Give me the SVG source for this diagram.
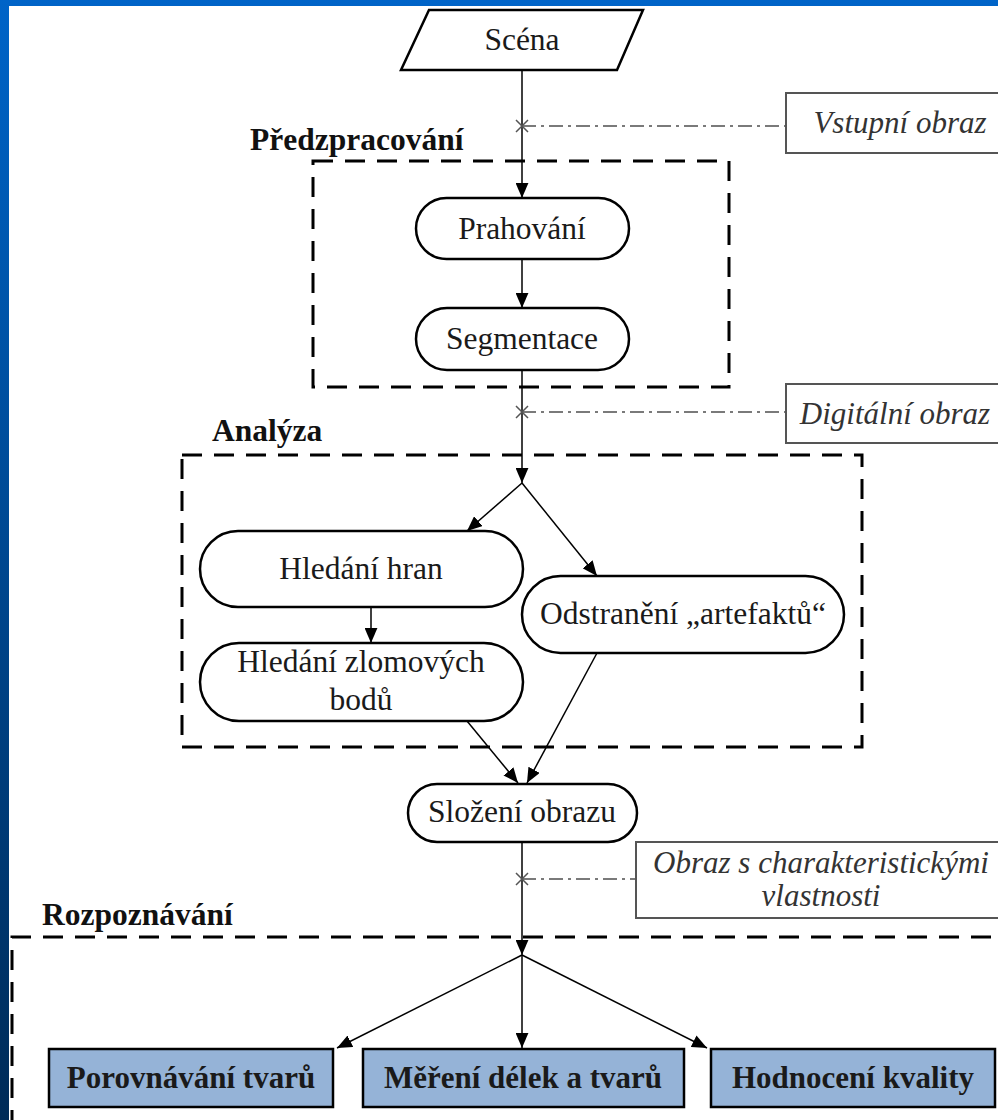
<svg xmlns="http://www.w3.org/2000/svg" width="998" height="1120" viewBox="0 0 998 1120">
<defs>
<linearGradient id="bg" x1="0" y1="0" x2="0" y2="1">
<stop offset="0" stop-color="#0064C8"/>
<stop offset="1" stop-color="#002B58"/>
</linearGradient>
<marker id="ah" viewBox="0 0 14 12" refX="14" refY="6" markerWidth="15" markerHeight="13" markerUnits="userSpaceOnUse" orient="auto">
<path d="M0,0 L14,6 L0,12 z" fill="#000"/>
</marker>
<style>
text{font-family:'Liberation Serif','Tinos','DejaVu Serif',serif}
.t{font-size:31.5px;fill:#1a1a1a;text-anchor:middle}
.b{font-weight:bold;font-size:31px}
.i{font-style:italic;fill:#333;font-size:31px}
.lbl{font-size:31.5px;font-weight:bold;fill:#111}
.node{fill:#fff;stroke:#000;stroke-width:2.5}
.res{fill:#95B3D7;stroke:#000;stroke-width:2.5}
.ann{fill:#fff;stroke:#555;stroke-width:2}
.grp{fill:none;stroke:#000;stroke-width:3;stroke-dasharray:20 12}
.c{fill:none;stroke:#000;stroke-width:1.5;marker-end:url(#ah)}
.dd{fill:none;stroke:#7a7a7a;stroke-width:2;stroke-dasharray:14 5 3 5}
.x{fill:none;stroke:#555;stroke-width:1.5}
</style>
</defs>
<rect x="0" y="0" width="998" height="1120" fill="url(#bg)"/>
<rect x="9" y="6" width="989" height="1114" fill="#fff"/>

<g id="groups">
<rect id="grp-predzpracovani" class="grp" x="313" y="161" width="416" height="226"/>
<rect id="grp-analyza" class="grp" x="182" y="455" width="680" height="292"/>
<path id="grp-rozpoznavani" class="grp" d="M12,1130 V937 H1010"/>
<text class="lbl" x="250" y="150">Předzpracování</text>
<text class="lbl" x="212" y="441">Analýza</text>
<text class="lbl" x="42" y="925">Rozpoznávání</text>
</g>

<g id="connectors">
<path class="c" d="M522,70 V198"/>
<path class="c" d="M522,259 V308"/>
<path class="c" d="M522,370 V483"/>
<path class="c" d="M522,483 L467,531"/>
<path class="c" d="M522,483 L597,576"/>
<path class="c" d="M371,607 V643"/>
<path class="c" d="M467,721 L518,783"/>
<path class="c" d="M597,653 L527,783"/>
<path class="c" d="M522,842 V955"/>
<path class="c" d="M522,955 L337,1048"/>
<path class="c" d="M522,955 V1048"/>
<path class="c" d="M522,955 L707,1048"/>
<path class="dd" d="M522,126 H786"/>
<path class="dd" d="M522,412 H786"/>
<path class="dd" d="M522,879 H636"/>
<path class="x" d="M516,120 L528,132 M528,120 L516,132"/>
<path class="x" d="M516,406 L528,418 M528,406 L516,418"/>
<path class="x" d="M516,873 L528,885 M528,873 L516,885"/>
</g>

<g id="scena">
<polygon class="node" points="429,10 643,10 617,70 401,70"/>
<text class="t" x="522" y="50">Scéna</text>
</g>
<g id="vstupni-obraz">
<rect class="ann" x="786" y="93" width="226" height="60"/>
<text class="t i" x="900" y="133">Vstupní obraz</text>
</g>
<g id="prahovani">
<rect class="node" x="416" y="198" width="213" height="61" rx="30.5"/>
<text class="t" x="522" y="239">Prahování</text>
</g>
<g id="segmentace">
<rect class="node" x="416" y="308" width="213" height="62" rx="31"/>
<text class="t" x="522" y="349">Segmentace</text>
</g>
<g id="digitalni-obraz">
<rect class="ann" x="786" y="384" width="226" height="59"/>
<text class="t i" x="895" y="424">Digitální obraz</text>
</g>
<g id="hledani-hran">
<rect class="node" x="200" y="531" width="323" height="76" rx="38"/>
<text class="t" x="361" y="579">Hledání hran</text>
</g>
<g id="hledani-zlomovych-bodu">
<rect class="node" x="200" y="643" width="323" height="78" rx="39"/>
<text class="t" x="361" y="672">Hledání zlomových</text>
<text class="t" x="361" y="710">bodů</text>
</g>
<g id="odstraneni-artefaktu">
<rect class="node" x="522" y="576" width="322" height="77" rx="38.5"/>
<text class="t" x="683" y="624">Odstranění „artefaktů“</text>
</g>
<g id="slozeni-obrazu">
<rect class="node" x="408" y="784" width="229" height="58" rx="29"/>
<text class="t" x="522" y="822">Složení obrazu</text>
</g>
<g id="obraz-s-charakteristickymi">
<rect class="ann" x="636" y="842" width="376" height="76"/>
<text class="t i" x="821" y="873">Obraz s charakteristickými</text>
<text class="t i" x="821" y="906">vlastnosti</text>
</g>
<g id="porovnavani-tvaru">
<rect class="res" x="49" y="1049" width="284" height="58"/>
<text class="t b" x="191" y="1088">Porovnávání tvarů</text>
</g>
<g id="mereni-delek">
<rect class="res" x="363" y="1049" width="321" height="58"/>
<text class="t b" x="523" y="1088">Měření délek a tvarů</text>
</g>
<g id="hodnoceni-kvality">
<rect class="res" x="711" y="1049" width="284" height="58"/>
<text class="t b" x="853" y="1088">Hodnocení kvality</text>
</g>
</svg>
